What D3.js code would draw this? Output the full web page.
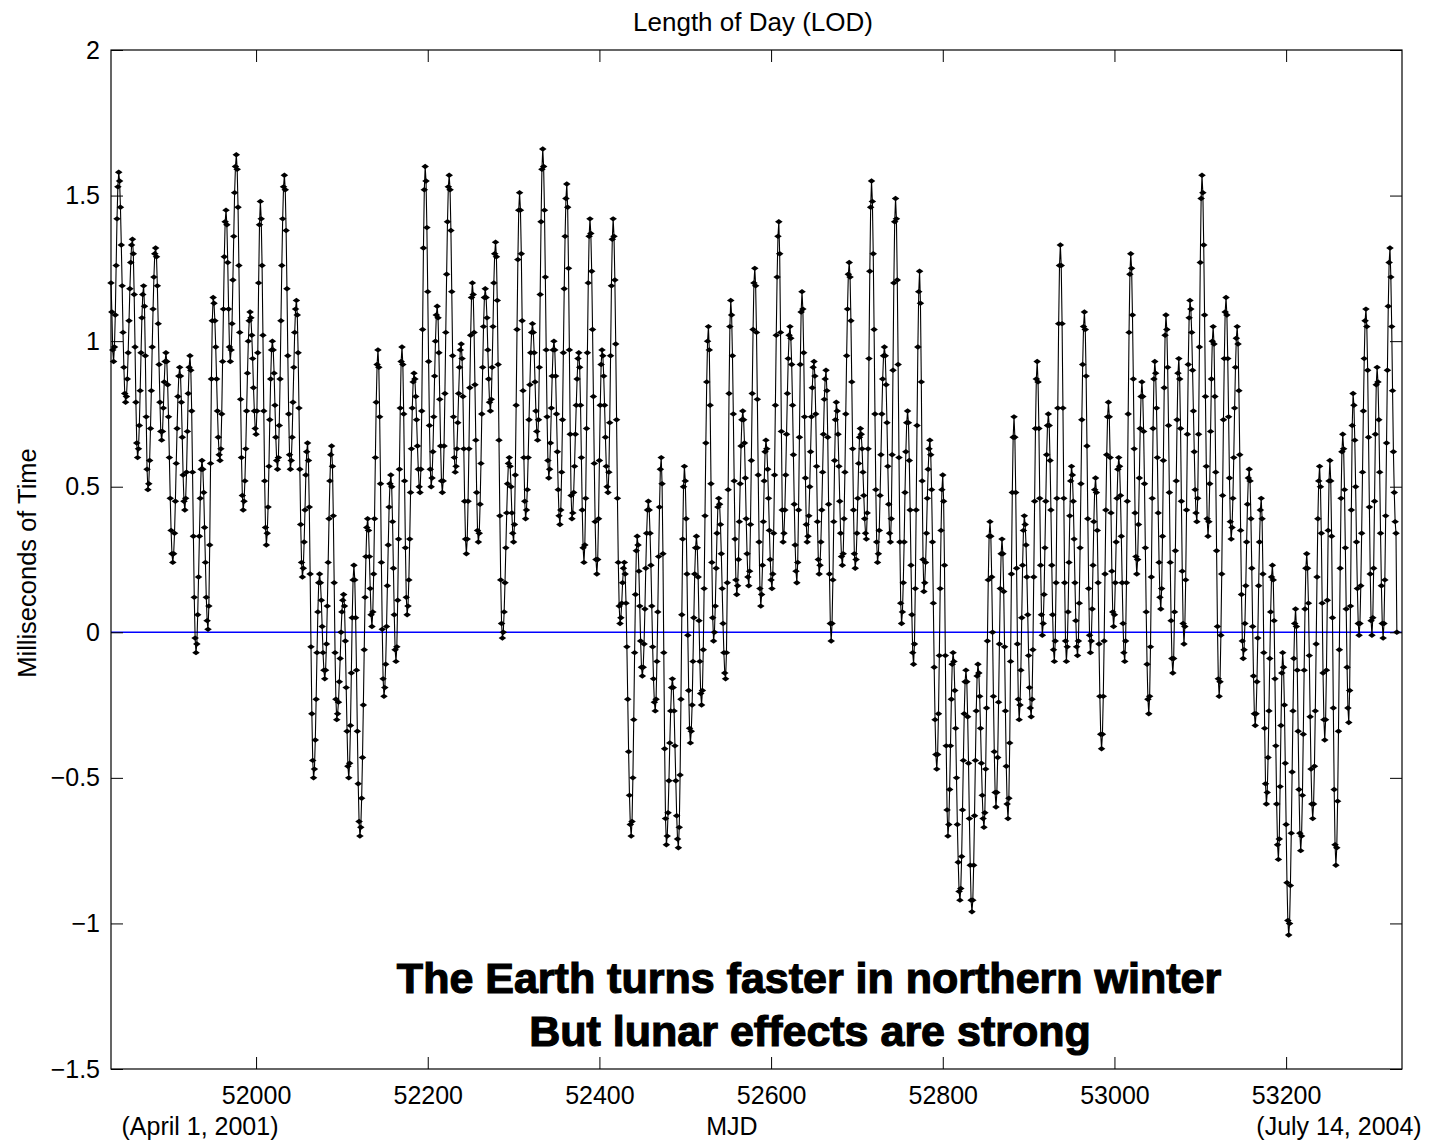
<!DOCTYPE html>
<html><head><meta charset="utf-8">
<script src="https://cdn.jsdelivr.net/npm/d3@7/dist/d3.min.js"></script>
<style>
body{margin:0;background:#fff}
text{font-family:"Liberation Sans",Arial,Helvetica,sans-serif}
</style>
</head><body>
<svg id="c" width="1429" height="1142"></svg>
<script>
// MJD of the first daily sample
const firstMJD = 51831;
// Daily length-of-day excess, ms
const lod = [
1.20,1.10,0.97,
0.93,0.98,1.09,1.26,1.42,1.53,
1.58,1.55,1.46,1.33,1.19,1.03,0.91,0.82,
0.79,0.81,0.87,0.96,1.07,1.18,1.27,1.33,
1.35,1.30,1.16,0.98,0.79,0.65,
0.60,0.63,0.71,0.83,0.96,1.08,1.16,
1.19,1.12,0.95,0.74,0.56,
0.49,0.51,0.59,0.70,0.83,0.98,1.11,1.22,1.30,
1.32,1.29,1.19,1.06,0.92,0.79,0.69,
0.66,0.69,0.77,0.86,0.93,
0.96,0.93,0.85,0.74,0.60,0.46,0.35,0.27,
0.24,0.27,0.34,0.45,0.58,0.70,0.81,0.88,
0.91,0.88,0.79,0.67,0.54,0.45,
0.42,0.46,0.55,0.69,0.82,0.91,
0.95,0.90,0.76,0.55,0.33,0.12,-0.02,
-0.07,-0.04,0.06,0.19,0.33,0.46,0.56,
0.59,0.56,0.48,0.36,0.24,0.12,0.04,
0.01,0.09,0.30,0.58,0.87,1.07,
1.15,1.13,1.07,0.98,0.87,0.76,0.67,0.61,
0.59,0.63,0.75,0.93,1.11,1.29,1.41,
1.45,1.40,1.27,1.11,0.98,
0.93,0.97,1.06,1.21,1.36,1.51,1.60,
1.64,1.59,1.46,1.26,1.03,0.80,0.60,0.47,
0.42,0.45,0.52,0.63,0.76,0.89,1.00,1.07,
1.10,1.08,1.02,0.94,0.84,0.76,0.70,
0.68,0.76,0.96,1.20,1.40,
1.48,1.42,1.26,1.02,0.76,0.52,0.36,
0.30,0.34,0.43,0.57,0.73,0.87,0.97,
1.00,0.97,0.89,0.78,0.67,0.59,
0.56,0.60,0.71,0.87,1.07,1.26,1.42,1.53,
1.57,1.52,1.38,1.18,0.95,0.75,0.61,
0.56,0.59,0.67,0.79,0.91,1.03,1.11,
1.14,1.09,0.96,0.77,0.56,0.37,0.24,
0.19,0.22,0.31,0.42,0.54,0.62,
0.65,0.59,0.43,0.20,-0.05,-0.28,-0.44,
-0.50,-0.47,-0.37,-0.23,-0.07,0.07,0.17,
0.20,0.17,0.11,0.02,-0.07,-0.13,
-0.16,-0.13,-0.04,0.09,0.24,0.39,0.52,0.61,
0.64,0.57,0.40,0.17,-0.07,-0.23,
-0.30,-0.28,-0.24,-0.17,-0.09,0.00,0.07,0.11,
0.13,0.09,-0.03,-0.19,-0.34,-0.46,
-0.50,-0.45,-0.32,-0.14,0.05,0.18,
0.23,0.18,0.05,-0.13,-0.34,-0.52,-0.65,
-0.70,-0.67,-0.57,-0.43,-0.25,-0.06,0.12,0.26,0.36,
0.39,0.35,0.26,0.15,0.06,
0.02,0.07,0.20,0.39,0.60,0.79,0.92,
0.97,0.91,0.74,0.51,0.24,0.01,-0.16,
-0.22,-0.19,-0.11,0.02,0.16,0.30,0.43,0.51,
0.54,0.50,0.38,0.22,0.06,-0.06,
-0.10,-0.05,0.11,0.32,0.56,0.77,0.93,
0.98,0.92,0.75,0.52,0.29,0.12,
0.06,0.09,0.18,0.32,0.48,0.63,0.77,0.86,
0.89,0.87,0.81,0.73,0.64,0.56,0.50,
0.48,0.56,0.76,1.04,1.32,1.52,
1.60,1.55,1.39,1.17,0.93,0.71,0.56,
0.50,0.53,0.62,0.74,0.88,1.00,1.09,
1.12,1.08,0.96,0.80,0.64,0.52,
0.48,0.52,0.64,0.82,1.03,1.23,1.41,1.53,
1.57,1.52,1.38,1.17,0.95,0.74,0.60,
0.55,0.57,0.63,0.72,0.82,0.91,0.97,
0.99,0.94,0.81,0.63,0.45,0.32,
0.27,0.32,0.45,0.63,0.84,1.02,1.15,
1.20,1.16,1.03,0.85,0.66,0.48,0.35,
0.31,0.34,0.44,0.58,0.75,0.91,1.05,1.15,
1.18,1.15,1.08,0.97,0.87,0.79,
0.76,0.80,0.91,1.05,1.20,1.30,
1.34,1.29,1.14,0.92,0.66,0.40,0.18,0.03,
-0.02,0.00,0.07,0.17,0.29,0.41,0.51,0.58,
0.60,0.57,0.50,0.41,0.34,
0.31,0.37,0.54,0.78,1.04,1.28,1.45,
1.51,1.45,1.30,1.07,0.83,0.60,0.45,
0.39,0.42,0.49,0.60,0.73,0.85,0.96,1.03,
1.06,1.03,0.96,0.86,0.76,0.69,
0.66,0.73,0.91,1.16,1.41,1.59,
1.66,1.60,1.45,1.22,0.97,0.74,0.59,
0.53,0.56,0.65,0.77,0.88,0.97,
1.00,0.97,0.88,0.75,0.62,0.49,0.40,
0.37,0.42,0.55,0.73,0.96,1.18,1.36,1.49,
1.54,1.46,1.25,0.97,0.68,0.47,
0.39,0.41,0.48,0.57,0.68,0.78,0.87,0.94,
0.96,0.91,0.78,0.60,0.42,0.29,
0.24,0.30,0.46,0.70,0.96,1.20,1.36,
1.42,1.37,1.24,1.04,0.81,0.58,0.38,0.25,
0.20,0.25,0.39,0.59,0.78,0.92,
0.97,0.95,0.88,0.78,0.67,0.57,0.50,
0.48,0.55,0.72,0.95,1.19,1.35,
1.42,1.36,1.21,0.99,0.73,0.46,0.24,0.09,
0.03,0.05,0.10,0.17,0.22,
0.24,0.20,0.10,-0.05,-0.23,-0.41,-0.56,-0.66,
-0.70,-0.65,-0.50,-0.30,-0.07,0.13,0.28,
0.33,0.30,0.21,0.09,-0.03,-0.12,
-0.15,-0.12,-0.04,0.08,0.22,0.34,0.42,
0.45,0.42,0.34,0.23,0.09,-0.05,-0.16,-0.24,
-0.27,-0.23,-0.10,0.07,0.26,0.43,0.56,
0.60,0.51,0.27,-0.07,-0.40,-0.64,
-0.73,-0.70,-0.62,-0.51,-0.38,-0.27,-0.19,
-0.16,-0.19,-0.27,-0.39,-0.51,-0.63,-0.71,
-0.74,-0.67,-0.49,-0.23,0.06,0.32,0.50,
0.57,0.52,0.39,0.20,-0.01,-0.20,-0.33,
-0.38,-0.34,-0.25,-0.10,0.05,0.20,0.29,
0.33,0.29,0.19,0.04,-0.10,-0.21,
-0.25,-0.20,-0.06,0.15,0.40,0.65,0.86,1.00,
1.05,0.97,0.78,0.51,0.24,0.05,
-0.03,0.00,0.09,0.22,0.34,0.43,
0.46,0.44,0.37,0.27,0.15,0.03,-0.07,-0.14,
-0.16,-0.07,0.17,0.49,0.82,1.05,
1.14,1.09,0.95,0.75,0.52,0.32,0.18,
0.13,0.16,0.25,0.38,0.51,0.64,0.73,
0.76,0.73,0.65,0.53,0.39,0.27,0.19,
0.16,0.21,0.37,0.59,0.82,1.04,1.20,
1.25,1.19,1.03,0.80,0.54,0.31,0.15,
0.09,0.13,0.23,0.38,0.52,0.62,
0.66,0.63,0.56,0.46,0.35,0.25,0.18,
0.15,0.20,0.34,0.54,0.78,1.02,1.22,1.36,
1.41,1.30,1.03,0.69,0.42,
0.31,0.34,0.42,0.54,0.68,0.82,0.94,1.02,
1.05,1.01,0.92,0.78,0.61,0.44,0.30,0.21,
0.17,0.24,0.42,0.67,0.92,1.10,
1.17,1.11,0.96,0.74,0.53,0.37,
0.31,0.33,0.40,0.50,0.62,0.74,0.84,0.91,
0.93,0.88,0.75,0.57,0.38,0.25,
0.20,0.23,0.31,0.42,0.55,0.68,0.80,0.87,
0.90,0.83,0.67,0.44,0.20,0.03,
-0.03,0.03,0.18,0.38,0.59,0.73,
0.79,0.76,0.68,0.57,0.45,0.34,0.26,
0.23,0.27,0.39,0.55,0.75,0.95,1.11,1.23,
1.27,1.22,1.07,0.86,0.63,0.42,0.27,
0.22,0.25,0.34,0.46,0.58,0.67,
0.70,0.68,0.63,0.55,0.47,0.39,0.34,
0.32,0.41,0.63,0.94,1.24,1.46,
1.55,1.48,1.30,1.04,0.75,0.49,0.31,
0.24,0.27,0.35,0.47,0.61,0.75,0.87,0.95,
0.98,0.95,0.85,0.72,0.57,0.44,0.34,
0.31,0.39,0.61,0.90,1.20,1.41,
1.49,1.42,1.21,0.92,0.60,0.31,0.10,
0.03,0.07,0.17,0.31,0.48,0.62,0.72,
0.76,0.72,0.59,0.42,0.23,0.06,-0.07,
-0.11,-0.04,0.15,0.42,0.71,0.98,1.17,
1.24,1.13,0.86,0.52,0.25,
0.14,0.17,0.24,0.34,0.46,0.56,0.63,
0.66,0.61,0.49,0.31,0.10,-0.12,-0.30,-0.42,
-0.47,-0.42,-0.28,-0.08,0.15,0.35,0.49,
0.54,0.45,0.23,-0.08,-0.39,-0.61,
-0.70,-0.66,-0.54,-0.39,-0.23,-0.11,
-0.07,-0.10,-0.20,-0.33,-0.50,-0.66,-0.79,-0.89,
-0.92,-0.88,-0.77,-0.61,-0.44,-0.28,-0.17,
-0.13,-0.17,-0.29,-0.45,-0.64,-0.80,-0.92,
-0.96,-0.92,-0.80,-0.63,-0.44,-0.27,-0.15,
-0.11,-0.14,-0.22,-0.33,-0.45,-0.56,-0.64,
-0.67,-0.62,-0.47,-0.26,-0.03,0.18,0.33,
0.38,0.33,0.19,0.00,-0.22,-0.41,-0.55,
-0.60,-0.55,-0.43,-0.24,-0.04,0.15,0.27,
0.32,0.27,0.14,-0.05,-0.27,-0.46,-0.59,
-0.64,-0.57,-0.38,-0.10,0.20,0.48,0.67,
0.74,0.67,0.48,0.22,-0.04,-0.23,
-0.30,-0.25,-0.13,0.05,0.23,0.35,
0.40,0.37,0.30,0.19,0.06,-0.08,-0.19,-0.26,
-0.29,-0.23,-0.06,0.19,0.45,0.70,0.87,
0.93,0.86,0.70,0.46,0.23,0.06,
-0.01,0.03,0.13,0.29,0.45,0.61,0.71,
0.75,0.71,0.59,0.42,0.23,0.06,-0.06,
-0.10,-0.03,0.17,0.46,0.77,1.06,1.26,
1.33,1.26,1.06,0.77,0.46,0.17,-0.03,
-0.10,-0.05,0.07,0.24,0.40,0.52,
0.57,0.54,0.45,0.32,0.17,0.04,-0.05,
-0.08,-0.03,0.10,0.29,0.51,0.73,0.92,1.05,
1.10,1.04,0.88,0.64,0.39,0.15,-0.01,
-0.07,-0.03,0.08,0.23,0.38,0.49,
0.53,0.48,0.35,0.17,-0.04,-0.22,-0.35,
-0.40,-0.35,-0.22,-0.03,0.20,0.42,0.61,0.74,
0.79,0.74,0.60,0.41,0.21,0.07,
0.02,0.06,0.17,0.31,0.46,0.56,
0.60,0.57,0.47,0.33,0.17,0.03,-0.07,
-0.10,-0.03,0.17,0.45,0.75,1.03,1.23,
1.30,1.25,1.09,0.87,0.63,0.41,0.26,
0.20,0.25,0.37,0.53,0.70,0.81,
0.86,0.81,0.69,0.51,0.29,0.07,-0.11,-0.23,
-0.28,-0.22,-0.05,0.19,0.46,0.70,0.87,
0.93,0.89,0.77,0.60,0.41,0.24,0.12,
0.08,0.15,0.33,0.59,0.84,1.02,
1.09,1.04,0.91,0.71,0.48,0.24,0.04,-0.09,
-0.14,-0.09,0.07,0.28,0.52,0.73,0.89,
0.94,0.87,0.70,0.45,0.21,0.03,
-0.04,0.02,0.18,0.42,0.68,0.92,1.08,
1.14,1.11,1.03,0.90,0.76,0.62,0.49,0.41,
0.38,0.46,0.68,0.98,1.27,1.49,
1.57,1.51,1.33,1.09,0.81,0.57,0.39,
0.33,0.38,0.51,0.69,0.87,1.00,
1.05,0.99,0.81,0.55,0.28,0.02,-0.16,
-0.22,-0.17,-0.01,0.20,0.47,0.73,0.94,1.10,
1.15,1.09,0.94,0.74,0.53,0.38,
0.32,0.36,0.46,0.60,0.77,0.91,1.01,
1.05,0.99,0.83,0.61,0.35,0.13,-0.03,
-0.09,-0.06,0.03,0.16,0.31,0.44,0.53,
0.56,0.52,0.39,0.22,0.02,-0.15,-0.28,
-0.32,-0.28,-0.17,-0.02,0.16,0.31,0.42,
0.46,0.39,0.20,-0.07,-0.33,-0.52,
-0.59,-0.55,-0.43,-0.27,-0.09,0.07,0.19,
0.23,0.18,0.04,-0.16,-0.39,-0.59,-0.73,
-0.78,-0.71,-0.53,-0.32,-0.14,
-0.07,-0.12,-0.25,-0.45,-0.66,-0.86,-0.99,
-1.04,-1.00,-0.87,-0.69,-0.48,-0.27,-0.09,0.03,
0.08,0.02,-0.13,-0.34,-0.54,-0.69,
-0.75,-0.70,-0.56,-0.35,-0.13,0.08,0.22,
0.27,0.22,0.10,-0.08,-0.29,-0.47,-0.59,
-0.64,-0.59,-0.46,-0.27,-0.04,0.19,0.39,0.52,
0.57,0.50,0.34,0.10,-0.14,-0.30,
-0.37,-0.30,-0.13,0.11,0.35,0.52,
0.59,0.52,0.33,0.05,-0.26,-0.54,-0.73,
-0.80,-0.74,-0.58,-0.34,-0.06,0.22,0.46,0.62,
0.68,0.63,0.49,0.29,0.08,-0.12,-0.26,
-0.31,-0.20,0.09,0.42,0.71,
0.82,0.78,0.66,0.50,0.31,0.15,0.03,
-0.01,0.03,0.16,0.34,0.55,0.76,0.94,1.07,
1.11,1.05,0.90,0.67,0.43,0.20,0.04,
-0.01,0.05,0.22,0.45,0.68,0.85,
0.91,0.86,0.73,0.55,0.34,0.16,0.03,
-0.02,0.03,0.18,0.40,0.65,0.90,1.12,1.27,
1.32,1.22,1.05,0.83,0.62,0.48,0.38,0.34,0.00
];

const xDomain = [51831, 53335];
const yDomain = [-1.5, 2];
const xTickValues = [52000, 52200, 52400, 52600, 52800, 53000, 53200];
const yTickValues = [-1.5, -1, -0.5, 0, 0.5, 1, 1.5, 2];
const yTickLabels = ["\u22121.5", "\u22121", "\u22120.5", "0", "0.5", "1", "1.5", "2"];
const titleText = "Length of Day (LOD)";
const xLabelText = "MJD";
const yLabelText = "Milliseconds of Time";
const dateLabels = ["(April 1, 2001)", "(July 14, 2004)"];
const noteLines = ["The Earth turns faster in northern winter", "But lunar effects are strong"];

const svg = d3.select("#c");
const M = {l: 111, r: 1402, t: 50, b: 1069};
const x = d3.scaleLinear().domain(xDomain).range([M.l, M.r]);
const y = d3.scaleLinear().domain(yDomain).range([M.b, M.t]);
const FS = 25;

svg.append("rect").attr("width", 1429).attr("height", 1142).attr("fill", "#fff");

// zero reference line
svg.append("line")
  .attr("x1", x(xDomain[0])).attr("x2", x(xDomain[1]))
  .attr("y1", y(0)).attr("y2", y(0))
  .attr("stroke", "#0000ff").attr("stroke-width", 1.5);

const pts = lod.map((v, i) => ({mjd: firstMJD + i, v}));

svg.append("path").datum(pts)
  .attr("fill", "none").attr("stroke", "#000").attr("stroke-width", 1.1)
  .attr("d", d3.line().x(d => x(d.mjd)).y(d => y(d.v)));

const diamond = "M-3.8,0L0,-2.7L3.8,0L0,2.7Z";
svg.append("g").selectAll("path").data(pts).join("path")
  .attr("d", diamond)
  .attr("transform", d => `translate(${x(d.mjd)},${y(d.v)})`)
  .attr("fill", "#000");

// axes
const TK = 12;
const gB = svg.append("g").attr("transform", `translate(0,${M.b})`)
  .call(d3.axisBottom(x).tickValues(xTickValues).tickSize(-TK).tickPadding(17).tickFormat(d3.format("d")));
const gT = svg.append("g").attr("transform", `translate(0,${M.t})`)
  .call(d3.axisTop(x).tickValues(xTickValues).tickSize(-TK).tickFormat(""));
const gL = svg.append("g").attr("transform", `translate(${M.l},0)`)
  .call(d3.axisLeft(y).tickValues(yTickValues).tickSize(-TK).tickPadding(11)
    .tickFormat((d, i) => yTickLabels[i]));
const gR = svg.append("g").attr("transform", `translate(${M.r},0)`)
  .call(d3.axisRight(y).tickValues(yTickValues).tickSize(-TK).tickFormat(""));
[gB, gT, gL, gR].forEach(g => {
  g.select(".domain").remove();
  g.selectAll(".tick line").attr("stroke", "#000").attr("stroke-width", 1);
  g.selectAll("text").attr("fill", "#000").style("font-size", FS + "px")
    .style("font-family", '"Liberation Sans",Arial,sans-serif');
});

svg.append("rect").attr("x", M.l).attr("y", M.t)
  .attr("width", M.r - M.l).attr("height", M.b - M.t)
  .attr("fill", "none").attr("stroke", "#000").attr("stroke-width", 1.2);

// titles and labels
svg.append("text").attr("x", 753).attr("y", 31).attr("text-anchor", "middle")
  .style("font-size", "26px").text(titleText);
svg.append("text").attr("x", 732).attr("y", 1135).attr("text-anchor", "middle")
  .style("font-size", FS + "px").text(xLabelText);
svg.append("text").attr("x", 200).attr("y", 1135).attr("text-anchor", "middle")
  .style("font-size", FS + "px").text(dateLabels[0]);
svg.append("text").attr("x", 1339).attr("y", 1135).attr("text-anchor", "middle")
  .style("font-size", FS + "px").text(dateLabels[1]);
svg.append("text").attr("transform", "translate(36,563) rotate(-90)")
  .attr("text-anchor", "middle").style("font-size", "25.5px").text(yLabelText);

[[noteLines[0], 809, 993], [noteLines[1], 810, 1046]].forEach(([t, tx, ty]) => {
  svg.append("text").attr("x", tx).attr("y", ty).attr("text-anchor", "middle")
    .style("font-size", "43px").style("font-weight", "bold")
    .attr("stroke", "#000").attr("stroke-width", 1.2).attr("fill", "#000")
    .text(t);
});
</script>
</body></html>
